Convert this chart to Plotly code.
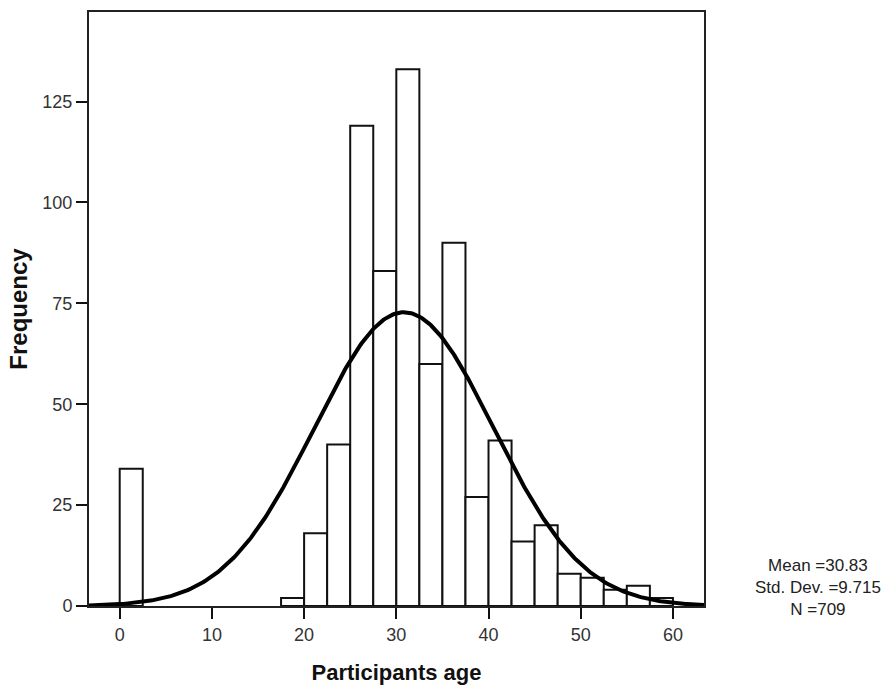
import numpy as np
import plotly.graph_objects as go

# Histogram of participants' age (bin width 2.5 years)
bin_width = 2.5
bin_starts = [0.0, 17.5, 20.0, 22.5, 25.0, 27.5, 30.0, 32.5, 35.0, 37.5,
              40.0, 42.5, 45.0, 47.5, 50.0, 52.5, 55.0, 57.5]
counts = [34, 2, 18, 40, 119, 83, 133, 60, 90, 27,
          41, 16, 20, 8, 7, 4, 5, 2]

# Summary statistics
mean_age = 30.83
std_dev = 9.715
n_total = 709

x_ticks = [0, 10, 20, 30, 40, 50, 60]
y_ticks = [0, 25, 50, 75, 100, 125]

x_range = [-3.33, 63.37]
y_range = [0, 147.2]

centers = [s + bin_width / 2 for s in bin_starts]

# Fitted normal curve scaled to counts per bin
xs = np.linspace(x_range[0], x_range[1], 400)
ys = n_total * bin_width / (std_dev * np.sqrt(2 * np.pi)) * np.exp(
    -0.5 * ((xs - mean_age) / std_dev) ** 2)

font_family = "Liberation Sans, Arial, sans-serif"

fig = go.Figure()
fig.add_trace(go.Bar(
    x=centers, y=counts, width=bin_width,
    marker=dict(color="white", line=dict(color="#111111", width=2)),
    hoverinfo="x+y",
))
fig.add_trace(go.Scatter(
    x=xs, y=ys, mode="lines",
    line=dict(color="#000000", width=4),
    hoverinfo="skip",
))

fig.update_layout(
    width=896, height=691,
    margin=dict(l=89, r=192, t=10, b=85),
    paper_bgcolor="white", plot_bgcolor="white",
    showlegend=False,
    font=dict(family=font_family, color="#222222"),
)

fig.update_xaxes(
    range=x_range, tickvals=x_ticks, ticks="outside", ticklen=11,
    tickwidth=2, tickcolor="#111111",
    showline=True, linewidth=2, linecolor="#222222", mirror=True,
    showgrid=False, zeroline=False,
    tickfont=dict(size=18, color="#333333"),
    title=dict(text="<b>Participants age</b>",
               font=dict(size=22, color="#111111"), standoff=21),
)
fig.update_yaxes(
    range=y_range, tickvals=y_ticks, ticks="outside", ticklen=11,
    tickwidth=2, tickcolor="#111111",
    showline=True, linewidth=2, linecolor="#222222", mirror=True,
    showgrid=False, zeroline=False,
    tickfont=dict(size=18, color="#333333"),
    title=dict(text="<b>Frequency</b>",
               font=dict(size=24, color="#111111"), standoff=8),
)

# Summary statistics box to the right of the plot area
fig.add_annotation(
    x=(818 - 89) / (896 - 89 - 192), y=(606 - 587) / (606 - 10),
    xref="paper", yref="paper", xanchor="center", yanchor="middle",
    text=f"Mean ={mean_age:.2f}<br>Std. Dev. ={std_dev:.3f}<br>N ={n_total}",
    showarrow=False, align="center",
    font=dict(size=17, color="#222222", family=font_family),
)

fig.write_html("out.html")
